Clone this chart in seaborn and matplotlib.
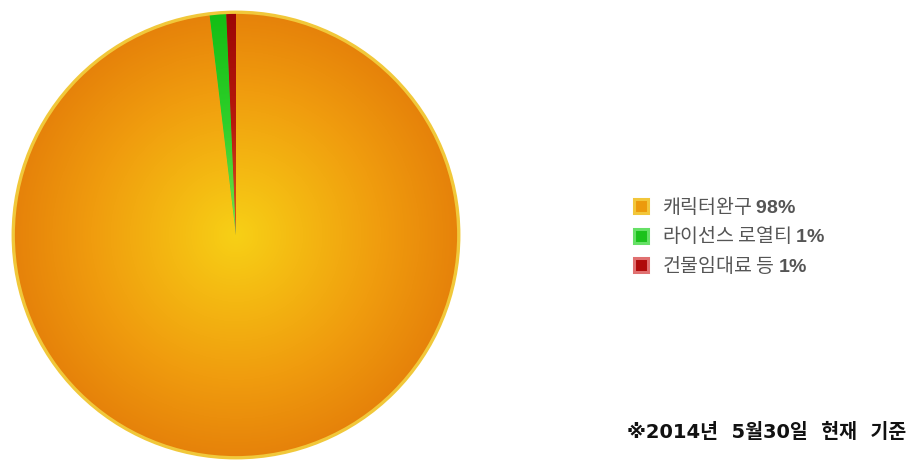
import numpy as np
import matplotlib
matplotlib.use('Agg')
import matplotlib.pyplot as plt
import seaborn as sns
from matplotlib.colors import LinearSegmentedColormap
from matplotlib.patches import Patch, Circle

categories = ['캐릭터완구', '라이선스 로열티', '건물임대료 등']
shares = [98.1, 1.2, 0.7]
share_labels = ['98%', '1%', '1%']
note = '※2014년  5월30일  현재  기준'

base_colors = ['#e8840a', '#1cc21c', '#a00808']
gradients = [
    [(0.0, '#f7d016'), (0.3, '#f4b812'), (0.65, '#f09c0e'), (1.0, '#e6820a')],
    [(0.0, '#7ae04a'), (0.5, '#2ed02a'), (1.0, '#14be14')],
    [(0.0, '#e05a20'), (0.5, '#b81a0c'), (1.0, '#9c0606')],
]
edge_colors = ['#f2c63a', '#66e066', '#e07070']

sns.set_theme(style='white')
plt.rcParams['font.family'] = ['Noto Sans CJK KR', 'DejaVu Sans']
plt.rcParams['mathtext.fontset'] = 'custom'
plt.rcParams['mathtext.bf'] = 'Liberation Sans:bold'
plt.rcParams['mathtext.rm'] = 'Noto Sans CJK KR'

fig = plt.figure(figsize=(9.14, 4.61), dpi=100)
ax = fig.add_axes([11/914, 1/461, 450/914, 450/461])

wedges, _ = ax.pie(shares, startangle=90, counterclock=False, colors=base_colors,
                   radius=1.0, wedgeprops=dict(linewidth=0))

# radial gradient overlays
n = 500
xs = np.linspace(-1, 1, n)
X, Y = np.meshgrid(xs, xs)
R = np.sqrt(X**2 + Y**2)
for w, stops in zip(wedges, gradients):
    cmap = LinearSegmentedColormap.from_list('g', stops)
    im = ax.imshow(R, extent=(-1, 1, -1, 1), cmap=cmap, vmin=0, vmax=1, origin='lower',
                   interpolation='bilinear', zorder=2)
    im.set_clip_path(w)

ring = Circle((0, 0), 1.0, fill=False, edgecolor='#f1c83a', linewidth=2.4, zorder=3)
ax.add_patch(ring)
ax.set_xlim(-1.01, 1.01)
ax.set_ylim(-1.01, 1.01)
ax.set_aspect('equal')
ax.axis('off')

labels = [f'{c} $\\mathbf{{{p.replace("%", chr(92) + "%")}}}$' for c, p in zip(categories, share_labels)]
handles = [Patch(facecolor=fc, edgecolor=ec, linewidth=2.2) for fc, ec in zip(['#ec9a0c', '#1cc21c', '#b00a0a'], edge_colors)]
leg = fig.legend(handles, labels, loc='center left', bbox_to_anchor=(616/914, 1 - 236/461),
                 frameon=False, handlelength=0.72, handleheight=0.72, handletextpad=0.75,
                 labelspacing=0.33, fontsize=14)
for t in leg.get_texts():
    t.set_color('#555555')

fig.text(906/914, 1 - 432/461, note, ha='right', va='center', fontsize=14,
         fontweight='bold', color='#111111', family=['DejaVu Sans', 'Noto Sans CJK KR'])

fig.savefig('out.png', dpi=100)
